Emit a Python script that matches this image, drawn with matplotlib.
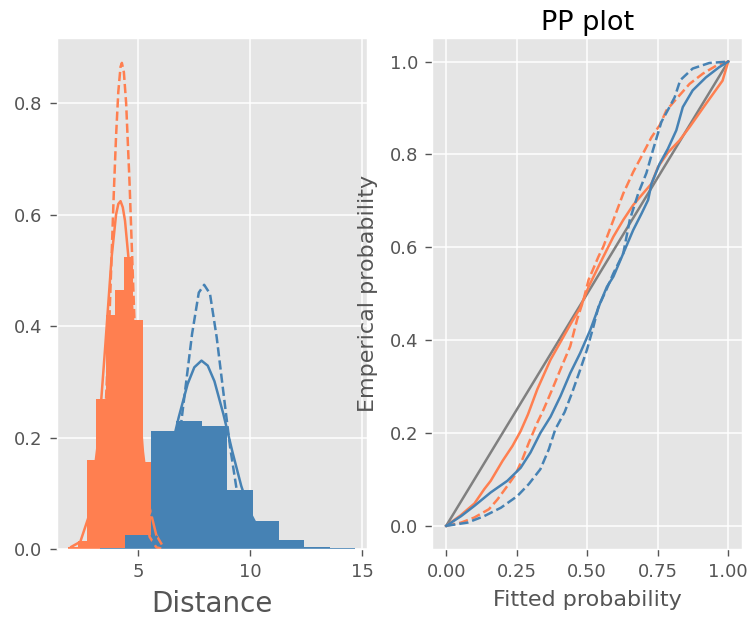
import matplotlib
matplotlib.use("Agg")
import matplotlib.pyplot as plt

plt.style.use("ggplot")

# histogram bins (density) for the two samples
orange_edges = [1.87, 2.285, 2.70, 3.115, 3.53, 3.945, 4.36, 4.775, 5.19, 5.605, 6.02]
orange_heights = [0.003, 0.014, 0.160, 0.270, 0.420, 0.464, 0.523, 0.410, 0.156, 0.005]
blue_edges = [3.26, 4.41, 5.55, 6.70, 7.84, 8.98, 10.12, 11.27, 12.41, 13.55, 14.69]
blue_heights = [0.002, 0.025, 0.212, 0.230, 0.221, 0.106, 0.050, 0.016, 0.003, 0.001]

# fitted densities (solid and dashed) for each sample
orange_fit_x = [2.0, 2.4, 2.8, 3.2, 3.5, 3.8, 4.0, 4.1, 4.2, 4.3, 4.4, 4.6, 4.9, 5.2, 5.5, 5.8, 6.02]
orange_fit_y = [0.004, 0.013, 0.061, 0.194, 0.355, 0.523, 0.600, 0.619, 0.624, 0.613, 0.589, 0.503,
                0.331, 0.175, 0.074, 0.025, 0.010]
orange_alt_x = [2.9, 3.2, 3.5, 3.7, 3.9, 4.0, 4.1, 4.2, 4.26, 4.35, 4.45, 4.6, 4.8, 5.0, 5.2, 5.5, 5.8, 6.02]
orange_alt_y = [0.010, 0.059, 0.220, 0.410, 0.640, 0.741, 0.820, 0.865, 0.872, 0.855, 0.800, 0.660,
                0.434, 0.235, 0.105, 0.022, 0.003, 0.001]
blue_fit_x = [5.6, 6.0, 6.4, 6.8, 7.2, 7.5, 7.82, 8.1, 8.4, 8.8, 9.2, 9.6, 10.0, 10.4, 11.0]
blue_fit_y = [0.061, 0.107, 0.168, 0.236, 0.296, 0.326, 0.338, 0.329, 0.301, 0.242, 0.175, 0.113,
              0.065, 0.034, 0.010]
blue_alt_x = [5.6, 6.0, 6.4, 6.8, 7.1, 7.4, 7.7, 7.94, 8.2, 8.5, 8.8, 9.1, 9.4, 9.8, 10.2, 10.6]
blue_alt_y = [0.010, 0.033, 0.089, 0.190, 0.288, 0.386, 0.460, 0.474, 0.458, 0.380, 0.281, 0.183,
              0.105, 0.041, 0.013, 0.003]

# PP plot: fitted vs empirical probability
pp_orange_x = [0, 0.05, 0.1, 0.135, 0.158, 0.2, 0.235, 0.264, 0.29, 0.323, 0.37, 0.41, 0.446, 0.475,
               0.505, 0.546, 0.593, 0.628, 0.663, 0.698, 0.728, 0.751, 0.786, 0.827, 0.863, 0.921,
               0.98, 1.0]
pp_orange_y = [0, 0.022, 0.048, 0.079, 0.097, 0.14, 0.172, 0.204, 0.24, 0.294, 0.358, 0.401, 0.44,
               0.469, 0.515, 0.566, 0.623, 0.659, 0.691, 0.716, 0.737, 0.773, 0.804, 0.83, 0.859,
               0.909, 0.959, 1.0]
pp_orange_alt_x = [0, 0.053, 0.1, 0.152, 0.182, 0.217, 0.246, 0.27, 0.293, 0.323, 0.345, 0.376, 0.41,
                   0.44, 0.464, 0.487, 0.505, 0.54, 0.557, 0.593, 0.628, 0.663, 0.698, 0.728, 0.757,
                   0.781, 0.821, 0.863, 0.91, 0.957, 1.0]
pp_orange_alt_y = [0, 0.007, 0.018, 0.036, 0.057, 0.086, 0.111, 0.143, 0.179, 0.222, 0.25, 0.294,
                   0.344, 0.387, 0.444, 0.487, 0.53, 0.58, 0.601, 0.659, 0.716, 0.762, 0.802, 0.837,
                   0.863, 0.895, 0.923, 0.952, 0.974, 0.991, 1.0]
pp_blue_x = [0, 0.053, 0.1, 0.158, 0.217, 0.264, 0.299, 0.334, 0.37, 0.405, 0.44, 0.475, 0.511,
             0.546, 0.57, 0.593, 0.628, 0.663, 0.693, 0.716, 0.728, 0.757, 0.786, 0.816, 0.839,
             0.874, 0.921, 0.968, 1.0]
pp_blue_y = [0, 0.021, 0.043, 0.072, 0.097, 0.125, 0.158, 0.2, 0.235, 0.279, 0.329, 0.372, 0.422,
             0.48, 0.515, 0.537, 0.587, 0.637, 0.673, 0.702, 0.737, 0.78, 0.812, 0.852, 0.902,
             0.938, 0.966, 0.988, 1.0]
pp_blue_alt_x = [0, 0.076, 0.135, 0.194, 0.252, 0.293, 0.334, 0.364, 0.387, 0.42, 0.446, 0.475,
                 0.499, 0.522, 0.54, 0.569, 0.593, 0.628, 0.651, 0.681, 0.71, 0.733, 0.763, 0.79,
                 0.81, 0.83, 0.874, 0.933, 1.0]
pp_blue_alt_y = [0, 0.007, 0.021, 0.039, 0.064, 0.09, 0.122, 0.165, 0.208, 0.245, 0.286, 0.336,
                 0.379, 0.429, 0.472, 0.51, 0.544, 0.587, 0.659, 0.716, 0.76, 0.809, 0.87, 0.9,
                 0.923, 0.96, 0.985, 0.997, 1.0]

orange = "#FF7F50"
blue = "#4682B4"
lw = 1.8

plt.rcParams["grid.linewidth"] = 1.1

fig, (ax1, ax2) = plt.subplots(1, 2, figsize=(7.53, 6.19), dpi=100)
fig.subplots_adjust(left=0.0753, right=0.9858, bottom=0.113, top=0.938, wspace=0.21)

# left: histograms with fitted curves
ax1.stairs(orange_heights, orange_edges, fill=True, facecolor=orange, edgecolor="none", linewidth=0)
ax1.stairs(blue_heights, blue_edges, fill=True, facecolor=blue, edgecolor="none", linewidth=0)
ax1.plot(orange_fit_x, orange_fit_y, color=orange, lw=lw)
ax1.plot(orange_alt_x, orange_alt_y, color=orange, lw=lw, ls="--")
ax1.plot(blue_fit_x, blue_fit_y, color=blue, lw=lw)
ax1.plot(blue_alt_x, blue_alt_y, color=blue, lw=lw, ls="--")
ax1.set_xlim(1.345, 15.22)
ax1.set_ylim(0, 0.916)
ax1.set_xticks([5, 10, 15])
ax1.set_yticks([0.0, 0.2, 0.4, 0.6, 0.8])
ax1.set_xlabel("Distance", fontsize=20, labelpad=6)

# right: PP plot
ax2.plot([0, 1], [0, 1], color="gray", lw=lw)
ax2.plot(pp_orange_x, pp_orange_y, color=orange, lw=lw)
ax2.plot(pp_orange_alt_x, pp_orange_alt_y, color=orange, lw=lw, ls="--")
ax2.plot(pp_blue_x, pp_blue_y, color=blue, lw=lw)
ax2.plot(pp_blue_alt_x, pp_blue_alt_y, color=blue, lw=lw, ls="--")
ax2.set_xticks([0, 0.25, 0.5, 0.75, 1.0])
ax2.set_xticklabels(["0.00", "0.25", "0.50", "0.75", "1.00"])
ax2.set_yticks([0.0, 0.2, 0.4, 0.6, 0.8, 1.0])
ax2.set_xlabel("Fitted probability", fontsize=16, labelpad=6)
ax2.set_ylabel("Emperical probability", fontsize=16, labelpad=8)
ax2.set_title("PP plot", fontsize=19.5, color="black")

for ax in (ax1, ax2):
    ax.tick_params(labelsize=13, length=4.7, pad=5.5, width=1.0)

fig.savefig("out.png", dpi=100)
